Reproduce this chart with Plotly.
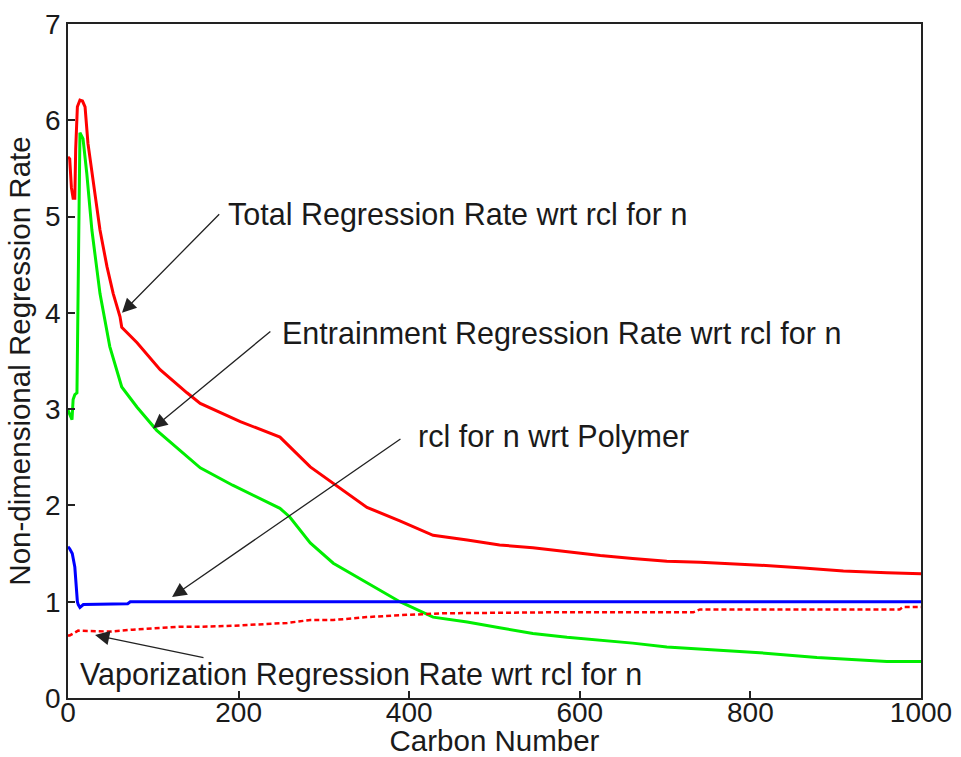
import plotly.graph_objects as go

# Total regression rate (red)
total_x = [0, 2, 4, 6, 8, 9, 11, 14, 17, 20, 23.4, 29, 37.5, 45.7, 53, 61, 63, 81, 108, 139.5, 155,
           202, 248.5, 284, 311, 350.5, 389, 428, 468, 506, 545, 585, 624, 662, 702, 741, 811, 862, 909, 960, 1000]
total_y = [5.62, 5.6, 5.3, 5.19, 5.19, 5.7, 6.14, 6.21, 6.2, 6.14, 5.76, 5.38, 4.86, 4.48, 4.2, 3.96, 3.85, 3.69, 3.41, 3.17, 3.06,
           2.87, 2.71, 2.40, 2.23, 1.98, 1.84, 1.69, 1.64, 1.59, 1.56, 1.52, 1.48, 1.45, 1.42, 1.41, 1.38, 1.35, 1.32, 1.30, 1.29]

# Entrainment regression rate (green)
entr_x = [0, 2, 4.7, 6, 8, 10.5, 12, 14, 17.6, 22, 28, 37.5, 49, 63, 81, 104, 155, 193, 248.5, 260, 284, 311,
          350, 389, 428, 468, 506, 545, 585, 624, 662, 702, 741, 811, 878, 960, 1000]
entr_y = [2.99, 2.95, 2.89, 3.1, 3.15, 3.17, 4.6, 5.87, 5.81, 5.45, 4.86, 4.2, 3.65, 3.23, 3.02, 2.78, 2.39, 2.21, 1.97, 1.88, 1.61, 1.40,
          1.20, 1.0, 0.84, 0.79, 0.73, 0.67, 0.63, 0.60, 0.57, 0.53, 0.51, 0.47, 0.42, 0.38, 0.38]

# rcl for n wrt Polymer (blue)
rcl_x = [0, 2, 5, 8, 11, 12, 14, 18, 70, 73, 1000]
rcl_y = [1.57, 1.55, 1.5, 1.36, 1.0, 0.97, 0.94, 0.97, 0.98, 1.0, 1.0]

# Vaporization regression rate (red dashed)
vap_x = [0, 2, 12, 49, 76, 131, 155, 193, 257, 284, 311, 350, 389, 428, 440, 569, 733, 741, 811, 975, 979, 1000]
vap_y = [0.65, 0.65, 0.70, 0.69, 0.71, 0.74, 0.74, 0.75, 0.78, 0.81, 0.81, 0.84, 0.86, 0.87, 0.88, 0.89, 0.89, 0.92, 0.92, 0.92, 0.945, 0.945]

x_ticks = [0, 200, 400, 600, 800, 1000]
y_ticks = [0, 1, 2, 3, 4, 5, 6, 7]

# Annotation labels
labels = ["Total Regression Rate wrt rcl for n",
          "Entrainment Regression Rate wrt rcl for n",
          "rcl for n wrt Polymer",
          "Vaporization Regression Rate wrt rcl for n"]
label_x = [185, 248.5, 408, 11.7]
label_y = [5.02, 3.79, 2.72, 0.24]
tip_x = [63.3, 99.6, 122, 31.7]
tip_y = [4.0, 2.80, 1.05, 0.654]
tail_x = [179, 239, 391.5, 160.6]
tail_y = [5.04, 3.82, 2.70, 0.415]

fig = go.Figure()
fig.add_trace(go.Scatter(x=total_x, y=total_y, mode="lines", line=dict(color="#ff0000", width=3), showlegend=False))
fig.add_trace(go.Scatter(x=entr_x, y=entr_y, mode="lines", line=dict(color="#00ee00", width=3), showlegend=False))
fig.add_trace(go.Scatter(x=rcl_x, y=rcl_y, mode="lines", line=dict(color="#0000ff", width=3), showlegend=False))
fig.add_trace(go.Scatter(x=vap_x, y=vap_y, mode="lines", line=dict(color="#ff0000", width=2.5, dash="5px,3px"), showlegend=False))

FONT = "Liberation Sans, Arial, Helvetica, sans-serif"
ann_font = dict(family=FONT, size=30.5, color="#1a1a1a")
for t, lx, ly, tx, ty, ax, ay in zip(labels, label_x, label_y, tip_x, tip_y, tail_x, tail_y):
    fig.add_annotation(x=lx, y=ly, xref="x", yref="y", text=t, showarrow=False,
                       xanchor="left", yanchor="middle", font=ann_font)
    fig.add_annotation(x=tx, y=ty, xref="x", yref="y", ax=ax, ay=ay, axref="x", ayref="y",
                       text="", showarrow=True, arrowhead=2, arrowsize=2.2, arrowwidth=1.3,
                       arrowcolor="#222222", standoff=0)

tick_font = dict(family=FONT, size=28, color="#1a1a1a")
title_font = dict(family=FONT, size=29.5, color="#1a1a1a")
fig.update_xaxes(range=[0, 1000], tickvals=x_ticks, ticks="inside", ticklen=7, tickwidth=1.5,
                 tickcolor="#222", showline=True, linecolor="#222", linewidth=1.5, mirror=True,
                 showgrid=False, zeroline=False, tickfont=tick_font, automargin=False,
                 ticklabelstandoff=-11,
                 title=dict(text="Carbon Number", font=title_font, standoff=0))
fig.update_yaxes(range=[0, 7], tickvals=y_ticks, ticks="inside", ticklen=7, tickwidth=1.5,
                 tickcolor="#222", showline=True, linecolor="#222", linewidth=1.5, mirror=True,
                 showgrid=False, zeroline=False, tickfont=tick_font, automargin=False,
                 title=dict(text="Non-dimensional Regression Rate", font=title_font, standoff=6))
fig.update_layout(width=961, height=757, margin=dict(l=68, r=40, t=24, b=59),
                  plot_bgcolor="white", paper_bgcolor="white")
fig.write_html("out.html")
